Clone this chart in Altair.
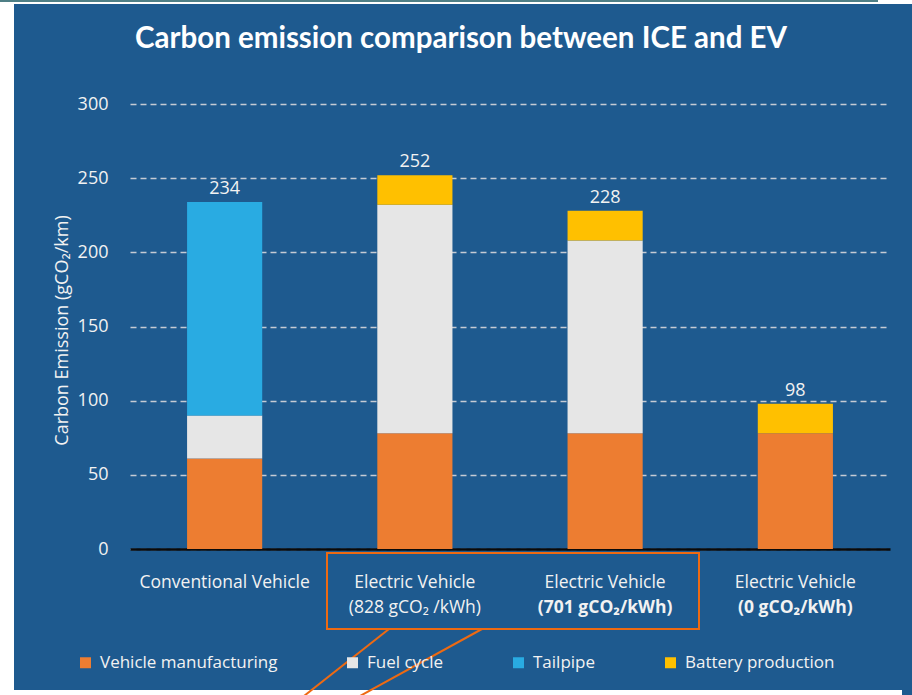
import altair as alt
import pandas as pd

# Vehicle groups (keys) and the two-line labels drawn under each bar
vehicles = ["ICE", "EV828", "EV701", "EV0"]
label_line1 = ["Conventional Vehicle", "Electric Vehicle", "Electric Vehicle", "Electric Vehicle"]
label_line2 = ["", "(828 gCO\u2082 /kWh)", "(701 gCO\u2082/kWh)", "(0 gCO\u2082/kWh)"]
label_bold2 = [False, False, True, True]

# Emission components, gCO2/km
components = ["Vehicle manufacturing", "Fuel cycle", "Tailpipe", "Battery production"]
manufacturing = [61, 78, 78, 78]
fuel_cycle = [29, 154, 130, 0]
tailpipe = [144, 0, 0, 0]
battery = [0, 20, 20, 20]
colors = ["#ed7d31", "#e6e6e6", "#29abe2", "#ffc000"]

BG = "#1e5a8f"
ANNOT = "#ee6a12"
FONT = "Open Sans"
TXT = "#f2f2f2"

rows = []
for i, v in enumerate(vehicles):
    for k, (name, series) in enumerate(zip(components, [manufacturing, fuel_cycle, tailpipe, battery])):
        if series[i] > 0:
            rows.append({"vehicle": v, "component": name, "value": series[i], "order": k})
long_df = pd.DataFrame(rows)

totals = [manufacturing[i] + fuel_cycle[i] + tailpipe[i] + battery[i] for i in range(len(vehicles))]
tot_df = pd.DataFrame({"vehicle": vehicles, "total": totals})
lab_df = pd.DataFrame({"vehicle": vehicles, "l1": label_line1, "l2": label_line2, "bold": label_bold2})

x_scale = alt.Scale(domain=vehicles, paddingInner=0.605, paddingOuter=0.3)
y_scale = alt.Scale(domain=[0, 300])

bars = alt.Chart(long_df).mark_bar().encode(
    x=alt.X("vehicle:N", scale=x_scale, title=None,
            axis=alt.Axis(labels=False, ticks=False, grid=False, domain=True,
                          domainColor="#0a0a0a", domainWidth=2.5)),
    y=alt.Y("value:Q", stack="zero", scale=y_scale, title="Carbon Emission (gCO\u2082/km)",
            axis=alt.Axis(values=[0, 50, 100, 150, 200, 250, 300], domain=False, ticks=False,
                          grid=True, gridColor="#c5cbd4", gridDash=[6, 4], gridWidth=1.5,
                          labelColor=TXT, labelFont=FONT, labelFontSize=18, labelPadding=22,
                          titleColor=TXT, titleFont=FONT, titleFontSize=18, titleFontWeight="normal",
                          titleX=-68, titleY=226, titleAngle=270, titleBaseline="middle", titleAlign="center")),
    color=alt.Color("component:N", scale=alt.Scale(domain=components, range=colors),
                    legend=alt.Legend(title=None, orient="none", legendX=-53, legendY=550,
                                      direction="horizontal", columns=4, columnPadding=66,
                                      symbolType="square", symbolSize=121, symbolStrokeWidth=0,
                                      labelColor=TXT, labelFont=FONT, labelFontSize=17,
                                      labelOffset=6, labelLimit=0)),
    order=alt.Order("order:Q"),
)

values = alt.Chart(tot_df).mark_text(baseline="bottom", dy=-4, color=TXT, font=FONT, fontSize=18).encode(
    x=alt.X("vehicle:N", scale=x_scale),
    y=alt.Y("total:Q", scale=y_scale),
    text="total:Q",
)

xlab1 = alt.Chart(lab_df).mark_text(baseline="middle", color=TXT, font=FONT, fontSize=17.5).encode(
    x=alt.X("vehicle:N", scale=x_scale),
    y=alt.value(479),
    text="l1:N",
)
xlab2_normal = alt.Chart(lab_df[~lab_df["bold"]]).mark_text(baseline="middle", color=TXT, font=FONT, fontSize=17.5).encode(
    x=alt.X("vehicle:N", scale=x_scale),
    y=alt.value(504),
    text="l2:N",
)
xlab2_bold = alt.Chart(lab_df[lab_df["bold"]]).mark_text(baseline="middle", color=TXT, font=FONT, fontSize=17.5, fontWeight="bold").encode(
    x=alt.X("vehicle:N", scale=x_scale),
    y=alt.value(504),
    text="l2:N",
)

one = alt.Data(values=[{}])

title = alt.Chart(one).mark_text(text="Carbon emission comparison between ICE and EV", font="Lato",
                                 fontSize=29.5, fontWeight="bold", color="white", baseline="middle").encode(
    x=alt.value(331), y=alt.value(-65))

# White page margins around the blue panel
margin_left = alt.Chart(one).mark_rect(color="white").encode(
    x=alt.value(-130), x2=alt.value(-116), y=alt.value(-104), y2=alt.value(591))
margin_top = alt.Chart(one).mark_rect(color="white").encode(
    x=alt.value(-130), x2=alt.value(782), y=alt.value(-104), y2=alt.value(-100))
top_rule = alt.Chart(one).mark_rect(color="#4f7f86").encode(
    x=alt.value(-130), x2=alt.value(748), y=alt.value(-104), y2=alt.value(-102))
margin_bottom = alt.Chart(one).mark_rect(color="white").encode(
    x=alt.value(-130), x2=alt.value(772), y=alt.value(586), y2=alt.value(591))

# Callout box around the two grid-powered EV labels
box = alt.Chart(one).mark_rect(fill=None, stroke=ANNOT, strokeWidth=2).encode(
    x=alt.value(197), x2=alt.value(569), y=alt.value(449), y2=alt.value(525))
lead1 = alt.Chart(one).mark_rule(color=ANNOT, strokeWidth=2).encode(
    x=alt.value(259), y=alt.value(525), x2=alt.value(174), y2=alt.value(592))
lead2 = alt.Chart(one).mark_rule(color=ANNOT, strokeWidth=2).encode(
    x=alt.value(352), y=alt.value(525), x2=alt.value(230), y2=alt.value(592))

chart = alt.layer(
    bars, values, xlab1, xlab2_normal, xlab2_bold, title,
    margin_left, margin_top, top_rule, margin_bottom, box, lead1, lead2,
).properties(
    width=760, height=445,
    autosize=alt.AutoSizeParams(type="none"),
    padding={"left": 130, "top": 104, "right": 22, "bottom": 146},
    background=BG,
).configure_view(stroke=None)

chart.save("out.html", embed_options={"renderer": "svg", "actions": False})
